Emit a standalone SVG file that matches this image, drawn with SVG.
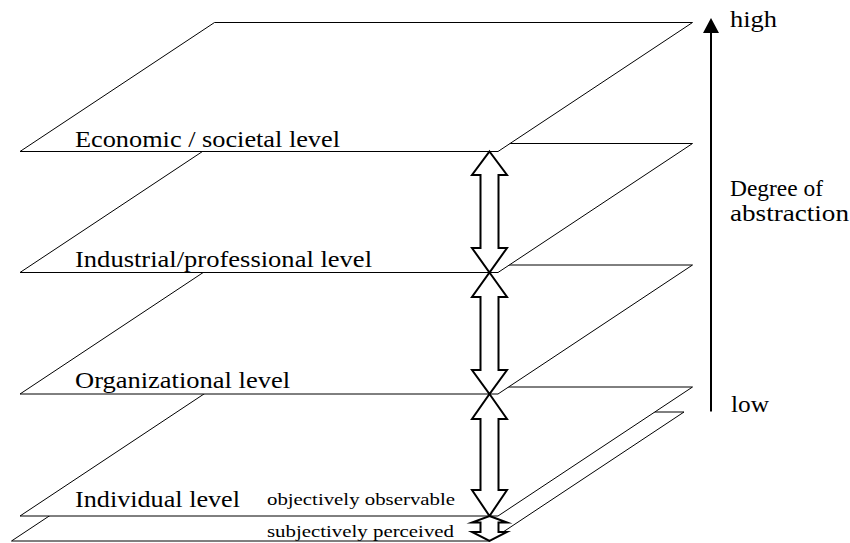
<svg xmlns="http://www.w3.org/2000/svg" width="850" height="543" viewBox="0 0 850 543">
<style>
.plane{fill:#fff;stroke:#000;stroke-width:1}
.dbl{fill:#fff;stroke:#000;stroke-width:2;stroke-linejoin:miter;stroke-miterlimit:10}
text{fill:#000}
</style>
<rect width="850" height="543" fill="#fff"/>
<g id="subjective-plane"><polygon class="plane" points="11.5,541 489.5,541 684,412 206,412"/></g>
<g id="individual-level" font-family="'Liberation Serif', 'Times New Roman', Times, serif">
<polygon class="plane" points="20,516 498,516 692.5,387 214.5,387"/>
<text font-size="24" x="75" y="507" textLength="165" lengthAdjust="spacingAndGlyphs">Individual level</text>
<text font-size="17" x="267" y="504.5" textLength="188" lengthAdjust="spacingAndGlyphs">objectively observable</text>
<text font-size="17" x="267" y="537" textLength="187" lengthAdjust="spacingAndGlyphs">subjectively perceived</text>
</g>
<g id="organizational-level" font-family="'Liberation Serif', 'Times New Roman', Times, serif"><polygon class="plane" points="20,394 498,394 692.5,265 214.5,265"/>
<text font-size="24" x="75" y="388" textLength="215" lengthAdjust="spacingAndGlyphs">Organizational level</text></g>
<g id="industrial-level" font-family="'Liberation Serif', 'Times New Roman', Times, serif"><polygon class="plane" points="20,272.5 498,272.5 692.5,143.5 214.5,143.5"/>
<text font-size="24" x="75" y="267" textLength="297" lengthAdjust="spacingAndGlyphs">Industrial/professional level</text></g>
<g id="economic-level" font-family="'Liberation Serif', 'Times New Roman', Times, serif"><polygon class="plane" points="20,151.5 498,151.5 692.5,22.5 214.5,22.5"/>
<text font-size="24" x="75" y="147" textLength="265" lengthAdjust="spacingAndGlyphs">Economic / societal level</text></g>
<g id="connectors">
<path class="dbl" d="M489.5,151.5 L507,175 L498.5,175 L498.5,248 L507,248 L489.5,272.5 L472,248 L480.5,248 L480.5,175 L472,175 Z"/>
<path class="dbl" d="M489.5,272.5 L507,297 L498.5,297 L498.5,370 L507,370 L489.5,394 L472,370 L480.5,370 L480.5,297 L472,297 Z"/>
<path class="dbl" d="M489.5,394 L507,419 L498.5,419 L498.5,490 L507,490 L489.5,516 L472,490 L480.5,490 L480.5,419 L472,419 Z"/>
<path class="dbl" d="M489.5,516 L507,522.5 L498.5,522.5 L498.5,532 L507,532 L489.5,541 L472,532 L480.5,532 L480.5,522.5 L472,522.5 Z"/>
</g>
<g id="abstraction-axis" font-family="'Liberation Serif', 'Times New Roman', Times, serif" font-size="24">
<line x1="711" y1="411.5" x2="711" y2="32" stroke="#000" stroke-width="2"/>
<polygon points="703,33 719,33 711,18" fill="#000"/>
<text x="730" y="27" textLength="47" lengthAdjust="spacingAndGlyphs">high</text>
<text x="730" y="196" textLength="93" lengthAdjust="spacingAndGlyphs">Degree of</text>
<text x="730" y="221" textLength="119" lengthAdjust="spacingAndGlyphs">abstraction</text>
<text x="731" y="411.5" textLength="38" lengthAdjust="spacingAndGlyphs">low</text>
</g>
</svg>
